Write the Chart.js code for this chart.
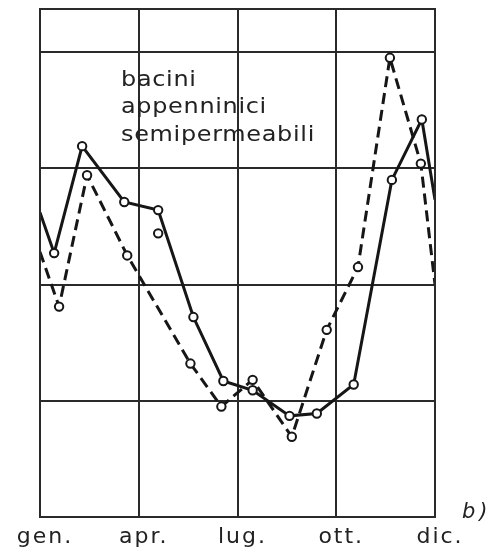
<!DOCTYPE html>
<html><head><meta charset="utf-8">
<script src="https://cdn.jsdelivr.net/npm/chart.js@4/dist/chart.umd.min.js"></script>
<style>html,body{margin:0;padding:0;background:#fff;overflow:hidden}#wrap{width:488px;height:554px;position:relative}</style>
</head><body>
<div id="wrap"><canvas id="c"></canvas></div>
<script>
// x axis: months from start of January (0) to end of December (12)
const xTickValues = [0, 3, 6, 9, 12];
const xTickLabels = ['gen.', 'apr.', 'lug.', 'ott.', 'dic.'];
const yGridValues = [0, 1, 2, 3, 4, 4.37];

// solid series (first/last entries are where the line meets the frame)
const solidX = [0, 0.43, 1.28, 2.56, 3.59, 4.66, 5.57, 6.46, 7.58, 8.41, 9.53, 10.69, 11.6, 12];
const solidY = [2.62, 2.27, 3.19, 2.71, 2.64, 1.72, 1.17, 1.09, 0.87, 0.89, 1.14, 2.90, 3.42, 2.73];

// dashed series
const dashedX = [0, 0.58, 1.43, 2.65, 4.57, 5.51, 6.46, 7.65, 8.71, 9.66, 10.63, 11.57, 12];
const dashedY = [2.28, 1.81, 2.94, 2.25, 1.32, 0.95, 1.18, 0.69, 1.61, 2.15, 3.95, 3.04, 2.00];

// isolated marker (April, dashed series, not joined by the line)
const strayX = [3.59];
const strayY = [2.44];

const labelLines = ['bacini', 'appenninici', 'semipermeabili'];
const panelTag = 'b)';

const INK = '#161616';
const GRID = '#2a2a2a';
const FONT = '"DejaVu Sans", sans-serif';

const toPts = (xs, ys) => xs.map((x, i) => ({x: x, y: ys[i]}));
const edgeRadius = (n, r) => ctx => (ctx.dataIndex === 0 || ctx.dataIndex === n - 1) ? 0 : r;

const textPlugin = {
  id: 'texts',
  beforeDraw(chart) { chart.ctx.letterSpacing = '2px'; },
  afterDraw(chart) {
    const c = chart.ctx, a = chart.chartArea;
    c.save();
    c.letterSpacing = '0.6px';
    c.fillStyle = '#222';
    c.font = '21px ' + FONT;
    c.textAlign = 'left';
    c.textBaseline = 'alphabetic';
    const sx = 1.14;
    const x0 = a.left + 81;
    c.translate(x0, 0);
    c.scale(sx, 1);
    labelLines.forEach((t, i) => c.fillText(t, 0, a.top + 77 + i * 27.3));
    c.restore();
    c.save();
    c.fillStyle = '#222';
    c.font = 'italic 21px ' + FONT;
    c.letterSpacing = '4px';
    c.fillText(panelTag, a.right + 27, a.bottom + 1);
    c.restore();
    c.save();
    c.strokeStyle = GRID; c.lineWidth = 2;
    c.strokeRect(a.left, a.top, a.right - a.left, a.bottom - a.top);
    c.restore();
    chart.ctx.letterSpacing = '0px';
  }
};

new Chart(document.getElementById('c'), {
  type: 'scatter',
  data: {
    datasets: [
      {
        data: toPts(solidX, solidY), showLine: true,
        borderColor: INK, borderWidth: 3,
        pointRadius: edgeRadius(solidX.length, 4.2),
        pointBackgroundColor: '#fff', pointBorderColor: INK, pointBorderWidth: 2,
        tension: 0
      },
      {
        data: toPts(dashedX, dashedY), showLine: true,
        borderColor: INK, borderWidth: 3, borderDash: [11, 6],
        pointRadius: edgeRadius(dashedX.length, 4.2),
        pointBackgroundColor: '#fff', pointBorderColor: INK, pointBorderWidth: 2,
        tension: 0
      },
      {
        data: toPts(strayX, strayY), showLine: false,
        pointRadius: 4.2,
        pointBackgroundColor: '#fff', pointBorderColor: INK, pointBorderWidth: 2
      }
    ]
  },
  options: {
    responsive: true, maintainAspectRatio: false, animation: false,
    layout: {padding: {left: 40, right: 53, top: 9, bottom: 0}},
    plugins: {legend: {display: false}, tooltip: {enabled: false}},
    scales: {
      x: {
        type: 'linear', min: 0, max: 12,
        afterBuildTicks: ax => { ax.ticks = xTickValues.map(v => ({value: v})); },
        afterFit: ax => { ax.height = 37; },
        grid: {color: GRID, lineWidth: 2, drawTicks: false},
        border: {color: GRID, width: 2},
        ticks: {
          callback: (v) => xTickLabels[xTickValues.indexOf(v)],
          color: '#222', font: {family: FONT, size: 22}, padding: 7,
          labelOffset: 5, maxRotation: 0, autoSkip: false
        }
      },
      y: {
        type: 'linear', min: 0, max: 4.37,
        afterBuildTicks: ax => { ax.ticks = yGridValues.map(v => ({value: v})); },
        afterFit: ax => { ax.width = 0; },
        grid: {color: GRID, lineWidth: 2, drawTicks: false},
        border: {color: GRID, width: 2},
        ticks: {display: false}
      }
    }
  },
  plugins: [textPlugin]
});
</script>
</body></html>
